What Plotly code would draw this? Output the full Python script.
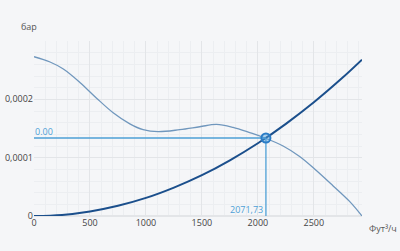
import plotly.graph_objects as go

# Fan curve
fan_x = [0, 143, 262, 410, 559, 707, 856, 975, 1109, 1302, 1481, 1630, 1778, 1927,
         2046, 2225, 2373, 2522, 2670, 2819, 2930]
fan_y = [0.000273, 0.000264, 0.000252, 0.000229, 0.000202, 0.000177, 0.000158, 0.000148,
         0.0001445, 0.000148, 0.000153, 0.000157, 0.000152, 0.000143, 0.000135, 0.000120,
         0.000102, 0.000078, 0.000052, 0.000025, 0.0]

# System curve
sys_x = [0, 250, 500, 750, 1000, 1250, 1500, 1750, 2000, 2250, 2500, 2750, 2930]
sys_y = [0.0, 0.0000019, 0.0000078, 0.0000175, 0.000031, 0.0000487, 0.00007, 0.0000955,
         0.0001247, 0.000158, 0.000195, 0.000236, 0.000268]

# Operating point
op_x = 2071.73
op_y = 0.0001337
op_x_label = "2071,73"
op_y_label = "0.00"

x_title = "Фут³/ч"
y_title = "бар"

bg = "#f5f6f8"
fig = go.Figure()

fig.add_trace(go.Scatter(x=fan_x, y=fan_y, mode="lines",
                         line=dict(color="#7097bd", width=1.3, shape="spline", smoothing=1),
                         hoverinfo="skip"))
fig.add_trace(go.Scatter(x=sys_x, y=sys_y, mode="lines", line=dict(color="#1b4f8c", width=2, shape="spline"),
                         hoverinfo="skip"))
fig.add_trace(go.Scatter(x=[0, op_x], y=[op_y, op_y], mode="lines", line=dict(color="#4d9fd6", width=1.3),
                         hoverinfo="skip"))
fig.add_trace(go.Scatter(x=[op_x, op_x], y=[op_y, 0], mode="lines", line=dict(color="#4d9fd6", width=1.3),
                         hoverinfo="skip"))
fig.add_trace(go.Scatter(x=[op_x], y=[op_y], mode="markers",
                         marker=dict(size=9, color="rgba(80,160,220,0.45)", line=dict(color="#2a7cc6", width=2)),
                         hoverinfo="skip"))

fig.add_annotation(x=0, y=op_y, text=op_y_label, showarrow=False, xanchor="left", yanchor="bottom",
                   font=dict(color="#4d9fd6", size=9, family="Open Sans"), xshift=-1, yshift=-2)
fig.add_annotation(x=op_x, y=0, text=op_x_label, showarrow=False, xanchor="right", yanchor="bottom",
                   font=dict(color="#4d9fd6", size=9, family="Open Sans"), xshift=-1, yshift=-2)
fig.add_annotation(xref="paper", yref="paper", x=-0.045, y=1.0, text=y_title, showarrow=False,
                   xanchor="left", yanchor="bottom", yshift=6,
                   font=dict(color="#555", size=9, family="Open Sans"))
fig.add_annotation(xref="paper", yref="paper", x=1.0, y=0, text=x_title, showarrow=False,
                   xanchor="left", yanchor="top", xshift=5, yshift=-4,
                   font=dict(color="#555", size=9, family="Open Sans"))

fig.update_layout(
    width=400, height=251,
    margin=dict(l=34, r=38, t=41, b=35),
    paper_bgcolor=bg, plot_bgcolor=bg,
    showlegend=False,
    separators=", ",
    font=dict(family="Open Sans", size=9, color="#444"),
    xaxis=dict(range=[0, 2930], tickvals=[0, 500, 1000, 1500, 2000, 2500], showgrid=True,
               gridcolor="#e3e5e8", gridwidth=1, zeroline=False, showline=False, ticks="",
               automargin=False,
               minor=dict(dtick=100, tick0=0, showgrid=True, gridcolor="#eceef1", gridwidth=1),
               tickfont=dict(size=9, color="#444")),
    yaxis=dict(range=[0, 0.0003], tickvals=[0, 0.0001, 0.0002], ticktext=["0", "0,0001", "0,0002"],
               showgrid=True, gridcolor="#e3e5e8", gridwidth=1, zeroline=True, zerolinecolor="#e3e5e8",
               showline=False, ticks="", automargin=False,
               minor=dict(dtick=0.00002, tick0=0, showgrid=True, gridcolor="#eceef1", gridwidth=1),
               tickfont=dict(size=9, color="#444")),
)

fig.write_html("out.html")
